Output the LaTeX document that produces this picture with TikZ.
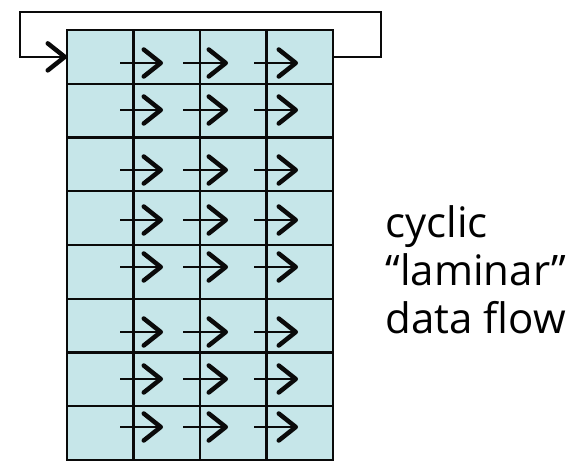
\documentclass[tikz,border=0pt]{standalone}
\usepackage{fontspec}
\setmainfont{Open Sans}
\usepackage{tikz}
\usetikzlibrary{arrows.meta, positioning, calc}
\definecolor{cellfill}{HTML}{C6E6E9}
\definecolor{inkblack}{HTML}{0A0A0A}
\tikzset{
  cell/.style={
    rectangle, draw=inkblack, line width=2.2pt,
    fill=cellfill, inner sep=0pt, outer sep=0pt,
    minimum width=66.5pt, minimum height=53.75pt,
  },
  flow/.style={-{Straight Barb[length=17pt, width=27pt, line width=4.5pt 0, round]},
    line width=1.3pt, color=inkblack},
  feedback/.style={-{Straight Barb[length=17pt, width=27pt, line width=4.5pt 0, round]},
    line width=2.2pt, color=inkblack},
  caption/.style={font=\fontsize{42}{48}\selectfont, align=left, anchor=west},
}

\begin{document}
\begin{tikzpicture}[x=1pt, y=-1pt]
  \useasboundingbox (0,0) rectangle (572,460);

  % 8 x 4 block of cells
  \foreach \r in {1,...,8}
    \foreach \c in {1,...,4}
      \node[cell] (c-\r-\c) at ({67+66.5*(\c-0.5)}, {30+53.75*(\r-0.5)}) {};

  % arrows crossing the column borders
  \foreach \r/\ay in {1/63, 2/110, 3/170, 4/220, 5/267, 6/332, 7/379, 8/427} {
    \foreach \xs/\xe [count=\k] in {120/163, 183/228, 254/298} {
      \coordinate (a-\r-\k) at (\xs,\ay);
      \coordinate (b-\r-\k) at (\xe,\ay);
      \draw[flow] (a-\r-\k) -- (b-\r-\k);
    }
  }

  % return path from the last column back to the first
  \coordinate (ret-r) at (381,12);
  \coordinate (ret-l) at (20,12);
  \draw[feedback] (c-1-4.east) -| (ret-r) -- (ret-l) |- (c-1-1.west);

  \node[caption] (label) at (382,270) {cyclic\\``laminar''\\data flow};

\end{tikzpicture}
\end{document}
